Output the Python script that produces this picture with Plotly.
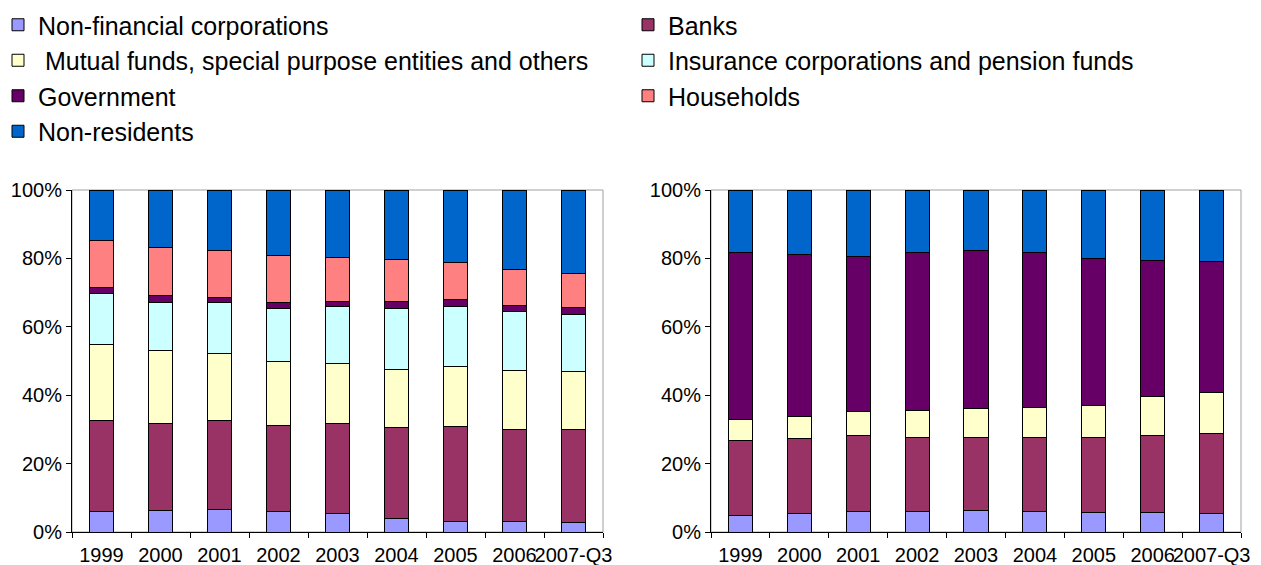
import plotly.graph_objects as go

categories = ["1999", "2000", "2001", "2002", "2003", "2004", "2005", "2006", "2007-Q3"]

series_names = [
    "Non-financial corporations",
    "Banks",
    " Mutual funds, special purpose entities and others",
    "Insurance corporations and pension funds",
    "Government",
    "Households",
    "Non-residents",
]
colors = ["#9999FF", "#993366", "#FFFFCC", "#CCFFFF", "#660066", "#FF8080", "#0066CC"]
legend_column = ["legend", "legend2", "legend", "legend2", "legend", "legend2", "legend"]

tick_values = [0, 20, 40, 60, 80, 100]
tick_labels = ["0%", "20%", "40%", "60%", "80%", "100%"]

# Left panel (shares, %)
left_nfc = [6.0, 6.3, 6.6, 6.0, 5.4, 4.0, 3.1, 3.1, 2.8]
left_banks = [26.7, 25.5, 26.0, 25.1, 26.4, 26.5, 27.7, 26.9, 27.2]
left_mutual = [22.0, 21.2, 19.7, 18.9, 17.6, 17.1, 17.6, 17.3, 17.0]
left_insurance = [14.9, 14.2, 14.7, 15.3, 16.5, 17.7, 17.5, 17.1, 16.6]
left_government = [1.9, 1.9, 1.6, 1.8, 1.6, 2.1, 2.0, 1.8, 2.0]
left_households = [13.8, 14.1, 13.7, 13.8, 12.8, 12.2, 10.9, 10.6, 10.1]
left_nonres = [14.7, 16.8, 17.7, 19.1, 19.7, 20.4, 21.2, 23.2, 24.3]

# Right panel (shares, %)
right_nfc = [4.8, 5.4, 6.0, 6.0, 6.3, 6.1, 5.7, 5.7, 5.4]
right_banks = [21.9, 21.9, 22.1, 21.6, 21.3, 21.5, 21.9, 22.6, 23.5]
right_mutual = [6.3, 6.5, 7.2, 7.8, 8.5, 8.7, 9.3, 11.2, 11.9]
right_insurance = [None] * 9
right_government = [48.8, 47.4, 45.3, 46.4, 46.2, 45.5, 43.2, 39.9, 38.4]
right_households = [None] * 9
right_nonres = [18.2, 18.8, 19.4, 18.2, 17.7, 18.2, 19.9, 20.6, 20.8]

left_data = [left_nfc, left_banks, left_mutual, left_insurance, left_government, left_households, left_nonres]
right_data = [right_nfc, right_banks, right_mutual, right_insurance, right_government, right_households, right_nonres]

fig = go.Figure()
for name, col, vals, lg in zip(series_names, colors, left_data, legend_column):
    fig.add_trace(go.Bar(x=categories, y=vals, name=name,
                         marker=dict(color=col, line=dict(color="black", width=1)),
                         xaxis="x", yaxis="y", showlegend=True, legend=lg))
for name, col, vals in zip(series_names, colors, right_data):
    fig.add_trace(go.Bar(x=categories, y=vals, name=name,
                         marker=dict(color=col, line=dict(color="black", width=1)),
                         xaxis="x2", yaxis="y2", showlegend=False))

font = dict(family="Liberation Sans, Arial, sans-serif", size=20, color="black")
# page body adds an 8px offset, so the figure is 8px smaller and shifted
OFF = 8
W, H = 1261 - OFF, 565 - OFF
ml, mr, mt, mb = 72 - OFF, 20, 190 - OFF, 33
pw = W - ml - mr
ph = H - mt - mb
d1 = [0, 531 / pw]
d2 = [(711 - OFF - ml) / pw, 1]

xax = dict(showline=True, linecolor="black", linewidth=1, ticks="outside", tickson="boundaries",
           ticklen=5, tickcolor="black", tickfont=font, showgrid=False, tickangle=0, automargin=False,
           ticklabelstandoff=5)
yax = dict(range=[0, 100], tickmode="array", tickvals=tick_values, ticktext=tick_labels, showline=True,
           linecolor="black", linewidth=1, ticks="outside", ticklen=5, tickcolor="black",
           tickfont=font, showgrid=False, zeroline=False, fixedrange=True, automargin=False)

legend_font = dict(family="Liberation Sans, Arial, sans-serif", size=25, color="black")
leg_common = dict(orientation="v", xanchor="left", yanchor="top", y=1 + (mt + 6) / ph,
                  traceorder="normal", font=legend_font, bgcolor="rgba(0,0,0,0)", tracegroupgap=0)

fig.update_layout(
    width=W, height=H,
    margin=dict(l=ml, r=mr, t=mt, b=mb, autoexpand=False),
    paper_bgcolor="white", plot_bgcolor="white",
    barmode="stack", bargap=0.59,
    font=font,
    xaxis=dict(domain=d1, anchor="y", **xax),
    yaxis=dict(domain=[0, 1], anchor="x", **yax),
    xaxis2=dict(domain=d2, anchor="y2", **xax),
    yaxis2=dict(domain=[0, 1], anchor="x2", **yax),
    legend=dict(x=(-2 - OFF - ml) / pw, **leg_common),
    legend2=dict(x=(628 - OFF - ml) / pw, **leg_common),
    shapes=[
        dict(type="rect", xref="x domain", yref="y domain", x0=0, x1=1, y0=0, y1=1,
             line=dict(color="#A0A0A0", width=1), layer="below"),
        dict(type="rect", xref="x2 domain", yref="y2 domain", x0=0, x1=1, y0=0, y1=1,
             line=dict(color="#A0A0A0", width=1), layer="below"),
    ],
)

fig.write_html("out.html")
